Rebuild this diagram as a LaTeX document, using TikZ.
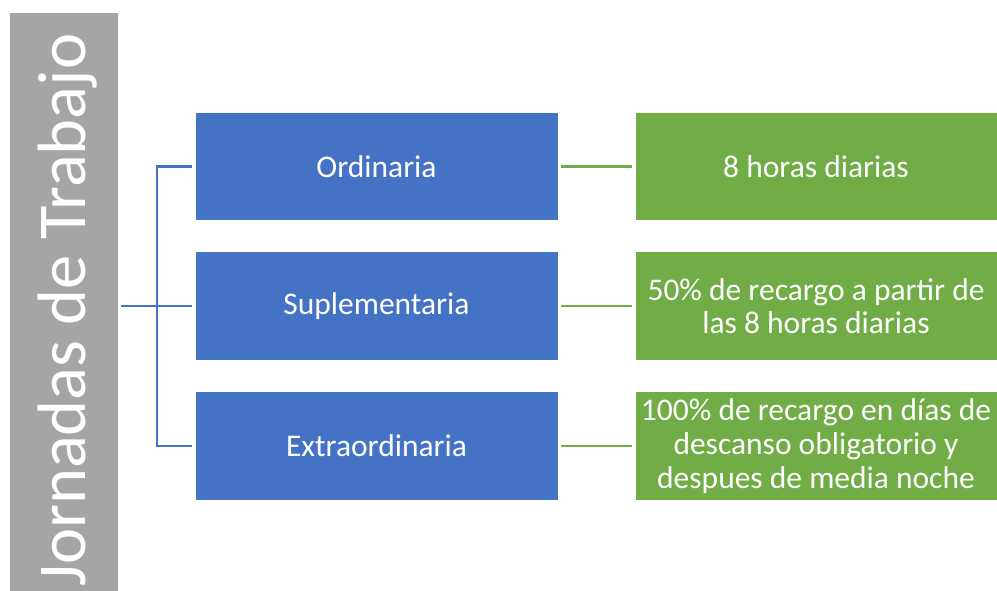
\documentclass[tikz,border=0pt]{standalone}
\usepackage{fontspec}
\setmainfont{Carlito}
\usetikzlibrary{positioning}
\definecolor{kindblue}{HTML}{4472C4}
\definecolor{ruleGreen}{HTML}{70AD47}
\definecolor{barGray}{HTML}{A5A5A5}
\tikzset{kind/.style={draw=white, line width=0.6pt, fill=kindblue, text=white, minimum width=363pt, minimum height=108.5pt, inner sep=0pt, align=center},
  rule/.style={draw=white, line width=0.6pt, fill=ruleGreen, text=white, minimum width=362pt, minimum height=108.5pt, inner sep=0pt, align=center},
  bline/.style={draw=kindblue, line width=2.5pt, shorten <=3pt, shorten >=3pt},
  gline/.style={draw=ruleGreen, line width=2.5pt, shorten <=3pt, shorten >=3pt}}

\begin{document}
\begin{tikzpicture}[x=1pt, y=1pt, font=\fontsize{31.5}{33.5}\selectfont]
  \useasboundingbox (0,0) rectangle (997,-591);
  \node[fill=barGray, minimum width=108pt, minimum height=578pt, inner sep=0pt] (title) at (64,-302) {};
  \node[rotate=90, anchor=base west, inner sep=0pt, text=white, font=\fontsize{68.5}{70}\selectfont] (titletxt) at (85,-587) {Jornadas de Trabajo};
  \node[kind] (ord) at (376.5,-166.5) {Ordinaria};
  \node[kind] (sup) at (376.5,-306) {Suplementaria};
  \node[kind] (ext) at (376.5,-446) {Extraordinaria};
  \node[rule] (ordR) at (816,-166.5) {8 horas diarias};
  \node[rule] (supR) at (816,-306) {50\% de recargo a partir de\\las 8 horas diarias};
  \node[rule, font=\fontsize{31.5}{34}\selectfont] (extR) at (816,-446) {100\% de recargo en días de\\descanso obligatorio y\\despues de media noche};
  \coordinate (trunk) at (157,-306);
  \draw[bline] (title.east |- sup.west) -- (sup.west);
  \draw[bline] (ord.west) -- (ord.west -| trunk) |- (ext.west);
  \draw[gline] (ord.east) -- (ordR.west);
  \draw[gline] (sup.east) -- (supR.west);
  \draw[gline] (ext.east) -- (extR.west);
\end{tikzpicture}
\end{document}
